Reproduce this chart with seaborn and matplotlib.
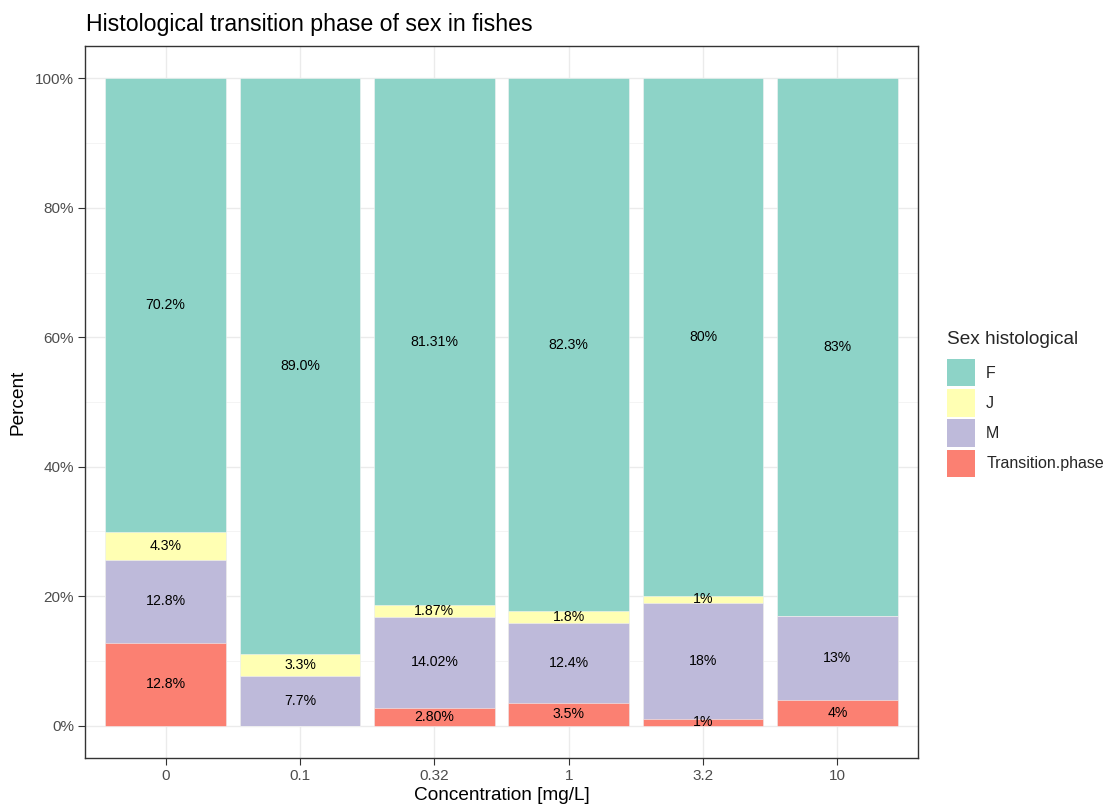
import matplotlib
matplotlib.use("Agg")
import matplotlib.pyplot as plt
from matplotlib.patches import Patch
from matplotlib.ticker import MultipleLocator, FuncFormatter
import seaborn as sns
import pandas as pd
import numpy as np

# ---- data ----
concentrations = ["0", "0.1", "0.32", "1", "3.2", "10"]
series_names = ["F", "J", "M", "Transition.phase"]
F_vals = [70.2, 89.0, 81.31, 82.3, 80.0, 83.0]
J_vals = [4.3, 3.3, 1.87, 1.8, 1.0, 0.0]
M_vals = [12.8, 7.7, 14.02, 12.4, 18.0, 13.0]
T_vals = [12.8, 0.0, 2.80, 3.5, 1.0, 4.0]
F_labels = ["70.2%", "89.0%", "81.31%", "82.3%", "80%", "83%"]
J_labels = ["4.3%", "3.3%", "1.87%", "1.8%", "1%", None]
M_labels = ["12.8%", "7.7%", "14.02%", "12.4%", "18%", "13%"]
T_labels = ["12.8%", None, "2.80%", "3.5%", "1%", "4%"]
colors = {"F": "#8DD3C7", "J": "#FFFFB3", "M": "#BEBADA", "Transition.phase": "#FB8072"}

sns.set_theme(style="white")
plt.rcParams["font.family"] = ["Liberation Sans", "DejaVu Sans"]

fig = plt.figure(figsize=(11.09, 8.05), dpi=100)
ax = fig.add_axes([85 / 1109, 1 - 758 / 805, (918 - 85) / 1109, (758 - 46) / 805])

# stacking order bottom -> top: Transition, M, J, F
stack = [("Transition.phase", T_vals, T_labels), ("M", M_vals, M_labels),
         ("J", J_vals, J_labels), ("F", F_vals, F_labels)]
bottoms = np.zeros(len(concentrations))
cums = []
for name, vals, labs in stack:
    v = np.array(vals)
    cums.append((name, bottoms + v, bottoms.copy(), v, labs))
    bottoms = bottoms + v

# draw from tallest cumulative to shortest so each overlays the previous
for name, top, bot, v, labs in reversed(cums):
    df = pd.DataFrame({"conc": concentrations, "y": top})
    sns.barplot(data=df, x="conc", y="y", order=concentrations, color=colors[name],
                saturation=1, width=0.9, errorbar=None, ax=ax, zorder=2,
                linewidth=0.4, edgecolor="#F4F4F4")

for name, top, bot, v, labs in cums:
    for i, lab in enumerate(labs):
        if lab is None:
            continue
        ax.text(i, bot[i] + v[i] / 2, lab, ha="center", va="center",
                fontsize=10.2, color="black", zorder=5)

ax.set_xlim(-0.6, len(concentrations) - 1 + 0.6)
ax.set_ylim(-5, 105)
ax.yaxis.set_major_locator(MultipleLocator(20))
ax.yaxis.set_minor_locator(MultipleLocator(10))
ax.yaxis.set_major_formatter(FuncFormatter(lambda v, p: f"{v:.0f}%"))

ax.set_axisbelow(True)
ax.grid(True, which="major", color="#EBEBEB", linewidth=1.0)
ax.grid(True, which="minor", axis="y", color="#F2F2F2", linewidth=0.6)
ax.xaxis.grid(True, which="major", color="#EBEBEB", linewidth=1.0)
for s in ax.spines.values():
    s.set_color("#333333")
    s.set_linewidth(1.0)
ax.tick_params(axis="both", which="major", length=5, width=0.8, color="#333333",
               labelsize=11, labelcolor="#4D4D4D", pad=3, direction="out",
               bottom=True, left=True)
ax.tick_params(axis="y", which="minor", length=0)

ax.set_xlabel("Concentration [mg/L]", fontsize=13.7, color="black", labelpad=3)
ax.set_ylabel("Percent", fontsize=13.7, color="black", labelpad=6)
fig.text(86 / 1109, 1 - 24 / 805, "Histological transition phase of sex in fishes",
         fontsize=16.7, ha="left", va="center", color="black")

handles = [Patch(facecolor=colors[n], edgecolor="none") for n in series_names]
leg = fig.legend(handles, series_names, title="Sex histological",
                 loc="upper left", bbox_to_anchor=(947 / 1109, 1 - 331 / 805),
                 frameon=False, fontsize=11.5, title_fontsize=13.7,
                 handlelength=1.75, handleheight=2.25, handletextpad=0.7,
                 labelspacing=0.18, borderpad=0, borderaxespad=0, alignment="left")
leg._legend_box.sep = 8

fig.savefig("out.png", dpi=100)
